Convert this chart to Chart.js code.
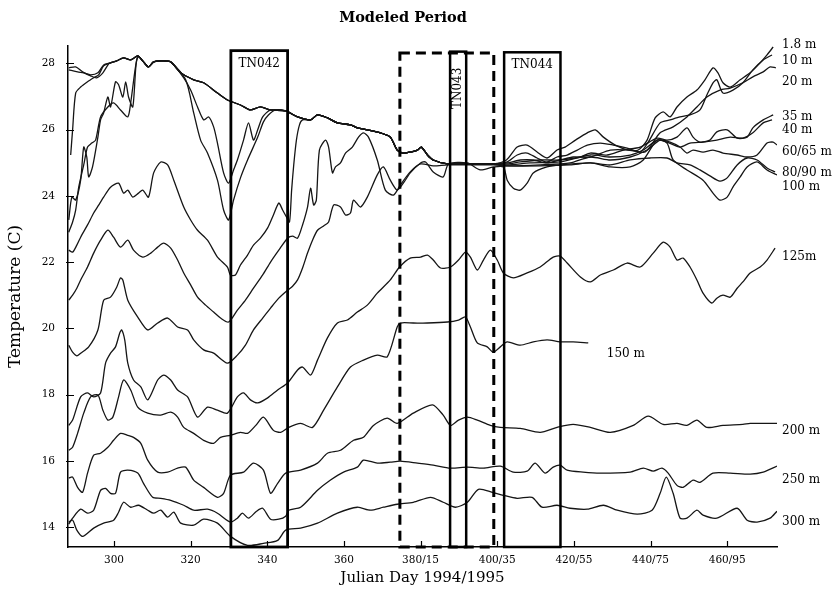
<!DOCTYPE html>
<html>
<head>
<meta charset="utf-8">
<title>Modeled Period</title>
<script src="https://cdn.jsdelivr.net/npm/chart.js@4.4.1/dist/chart.umd.min.js"></script>
<style>
  html, body { margin: 0; padding: 0; background: #fff; }
  canvas { display: block; }
</style>
</head>
<body>
<canvas id="chart" width="833" height="591"></canvas>
<script>
// [julian day, temperature C] per mooring depth

// shared mixed-layer trace, followed by every shallow sensor while it sits in the mixed layer
const mixedLayer = [[288.2,27.80],[290.5,27.74],[292.1,27.71],[293.9,27.65],[295.8,27.71],[297.3,27.95],[299.1,28.01],[300.7,28.07],[302.5,28.16],[304.35,28.10],[306.2,28.22],[307.7,28.04],[309.0,27.89],[310.35,28.04],[312.2,28.07],[314.8,28.04],[317.4,27.71],[320.8,27.50],[323.4,27.41],[327.0,27.10],[329.6,26.89],[333.0,26.74],[335.6,26.59],[338.2,26.68],[340.85,26.59],[344.8,26.56],[347.9,26.38],[351.3,26.29],[353.1,26.44],[355.7,26.35],[358.3,26.20],[361.7,26.14],[363.5,26.05],[366.1,25.99],[369.5,25.90],[372.1,25.77],[373.9,25.38],[375.5,25.29],[377.3,25.32],[379.2,25.38],[380.2,25.47],[381.8,25.23],[383.3,25.08],[387.0,24.96],[392.2,24.96],[398.95,24.96],[405.2,25.02]];

const d1_8Tail = [[402.4,25.08],[405.2,25.47],[407.8,25.53],[410.4,25.32],[413.0,25.14],[415.6,25.38],[417.7,25.47],[420.4,25.68],[423.5,25.90],[425.6,25.99],[427.7,25.77],[430.8,25.53],[434.2,25.38],[436.8,25.38],[439.1,25.68],[441.2,26.35],[443.3,26.53],[445.1,26.38],[446.9,26.68],[449.5,26.98],[452.1,27.19],[454.2,27.50],[456.3,27.86],[457.6,27.71],[458.9,27.41],[460.8,27.28],[463.4,27.50],[466.0,27.71],[468.6,28.01],[470.4,28.25],[472.0,28.49]];

const d10Head = [[288.2,27.86],[290.0,27.89],[291.8,27.74],[293.9,27.62],[295.5,27.56],[297.1,27.71],[298.6,27.98]];
const d10Tail = [[402.6,25.02],[405.2,25.23],[407.8,25.29],[410.4,25.14],[413.0,25.02],[415.6,25.17],[418.25,25.23],[420.9,25.38],[423.5,25.53],[426.9,25.59],[430.3,25.53],[433.9,25.44],[437.3,25.32],[439.4,25.62],[442.5,26.20],[445.1,26.29],[447.7,26.38],[450.3,26.44],[452.9,26.59],[454.7,27.04],[456.3,27.41],[457.3,27.50],[458.9,27.10],[461.5,27.19],[464.1,27.41],[466.7,27.80],[469.4,28.10],[471.7,28.25]];

const d20Head = [[288.7,25.23],[289.2,25.99],[290.0,27.10],[291.3,27.28],[293.1,27.44],[294.7,27.56],[296.0,27.65],[297.3,27.92]];
const d20Dip = [[318.2,27.56],[320.0,27.19],[321.8,26.68],[323.4,26.29],[324.7,26.38],[326.0,26.08],[327.0,25.59],[328.6,24.69],[329.9,24.38],[331.2,24.78],[332.2,25.08],[333.8,25.68],[335.1,26.20],[336.4,25.68],[337.5,25.99],[338.8,26.38],[340.85,26.59]];
const d20Tail = [[402.6,24.99],[406.0,25.08],[409.4,25.08],[413.0,24.99],[416.4,25.08],[419.8,25.17],[424.3,25.17],[429.5,25.38],[434.7,25.38],[438.6,25.32],[442.5,25.90],[445.9,26.08],[449.5,26.38],[452.1,26.68],[454.7,26.98],[458.1,27.19],[460.8,27.25],[464.1,27.41],[466.7,27.59],[469.4,27.74],[471.2,27.89],[472.7,27.86]];

const d35Head = [[288.2,23.27],[289.0,23.96],[290.0,23.87],[291.3,24.47],[292.1,25.47],[292.9,25.17],[293.4,24.57],[294.4,24.87],[295.8,25.77],[296.5,26.29],[297.3,26.50],[298.4,26.98],[299.1,26.68],[300.4,27.44],[301.2,27.35],[302.3,26.98],[303.05,27.44],[303.8,26.98],[304.9,26.68],[305.7,27.89],[306.2,28.22]];
const d35Tail = [[402.6,24.96],[406.0,25.02],[411.2,25.08],[416.4,25.08],[421.7,25.17],[424.3,25.29],[428.7,25.23],[432.9,25.38],[437.3,25.47],[441.7,25.74],[444.3,25.68],[446.9,25.77],[449.5,26.05],[451.1,25.77],[452.9,25.62],[455.5,25.68],[457.3,25.93],[460.0,25.99],[462.6,25.74],[465.2,25.77],[466.7,26.05],[469.4,26.29],[472.0,26.44]];

const d40Head = [[288.2,22.90],[289.2,23.21],[290.0,23.57],[290.8,24.26],[292.1,24.93],[293.1,25.47],[294.2,25.59],[295.2,25.68],[296.5,26.38],[298.4,26.68],[299.9,26.80],[301.7,26.59],[303.6,26.38],[304.35,26.80],[305.7,27.95],[306.4,28.19]];
const d40Dip = [[318.7,27.50],[320.8,26.50],[322.6,25.68],[324.4,25.29],[327.0,24.47],[328.6,23.57],[329.9,23.27],[331.2,23.87],[333.0,24.54],[334.85,25.08],[337.5,25.77],[339.0,26.23],[340.3,26.44],[342.2,26.59]];
const d40Tail = [[402.6,24.93],[408.6,24.99],[416.4,25.02],[424.3,25.23],[429.5,25.17],[434.7,25.23],[438.1,25.38],[441.7,25.68],[444.3,25.62],[447.7,25.47],[450.3,25.59],[453.7,25.62],[457.3,25.68],[460.8,25.77],[464.1,25.74],[466.7,25.90],[469.4,26.20],[471.7,26.29]];

const d60Head = [[288.2,22.36],[289.2,22.30],[290.3,22.51],[291.3,22.75],[293.1,23.12],[294.7,23.48],[296.0,23.72],[297.3,23.96],[299.1,24.26],[301.2,24.38],[302.5,24.08],[303.6,24.17],[304.9,23.96],[306.4,24.08],[307.5,24.17],[309.0,23.96],[310.35,24.69],[312.2,25.02],[314.0,24.93],[315.6,24.47],[318.2,23.66],[320.0,23.27],[321.8,22.96],[324.4,22.66],[327.0,22.15],[329.6,21.85],[330.4,21.60],[331.7,21.61],[333.0,21.91],[334.85,22.21],[336.4,22.51],[338.2,22.72],[340.1,23.03],[341.6,23.42],[343.0,23.78],[344.0,23.57],[345.0,23.36],[345.8,23.21],[346.35,24.17],[346.9,24.93],[347.6,25.68],[348.4,26.14],[349.2,26.29]];
const d60Tail = [[402.6,24.90],[411.2,24.93],[419.0,24.99],[424.3,25.17],[429.5,25.08],[434.7,25.17],[439.1,25.38],[442.5,25.68],[445.1,25.62],[447.7,25.47],[449.5,25.29],[451.1,25.38],[453.7,25.32],[456.3,25.38],[458.9,25.29],[462.6,25.23],[465.2,25.17],[467.8,25.23],[470.4,25.59],[472.0,25.62],[473.0,25.53]];

const d80 = [[288.2,20.85],[289.2,21.00],[290.3,21.21],[291.3,21.46],[293.1,21.85],[294.7,22.27],[296.5,22.66],[298.4,22.96],[299.9,22.75],[301.7,22.45],[303.6,22.66],[305.1,22.36],[307.5,22.15],[309.6,22.27],[311.4,22.45],[312.95,22.57],[314.8,22.42],[316.6,22.06],[318.2,21.67],[320.0,21.31],[321.8,20.94],[323.9,20.70],[326.0,20.49],[327.8,20.31],[329.9,20.19],[332.2,20.55],[334.3,20.85],[336.4,21.21],[338.8,21.61],[340.85,22.00],[343.0,22.36],[345.3,22.72],[346.6,22.78],[347.9,22.72],[349.2,23.12],[350.5,23.66],[351.3,24.23],[352.1,23.72],[352.8,23.87],[353.6,25.38],[355.2,25.68],[356.0,25.47],[357.0,24.69],[357.8,24.87],[359.1,24.99],[360.4,25.29],[362.2,25.47],[363.8,25.77],[365.1,25.90],[366.4,25.77],[368.7,25.08],[370.8,24.17],[372.9,24.02],[374.7,24.32],[377.3,24.72],[380.0,24.96],[383.3,24.90],[387.0,24.93],[392.2,24.93],[398.95,24.93],[402.6,24.90],[411.2,24.90],[419.0,24.93],[424.3,24.99],[429.5,24.93],[434.7,25.08],[439.9,25.14],[444.3,25.14],[446.9,24.99],[450.3,24.93],[452.9,24.78],[455.5,24.60],[458.1,24.44],[460.0,24.54],[462.6,24.93],[465.2,25.14],[467.8,25.08],[470.4,24.84],[472.5,24.72]];

const d100 = [[288.2,19.49],[289.2,19.28],[290.3,19.17],[291.3,19.25],[293.4,19.44],[295.8,19.95],[297.3,20.85],[299.1,20.94],[300.7,21.24],[301.7,21.52],[302.3,21.46],[303.6,20.85],[306.2,20.34],[308.8,19.95],[311.4,20.16],[314.0,20.31],[316.6,20.04],[319.2,19.95],[320.8,19.65],[323.4,19.35],[326.0,19.25],[329.6,18.95],[332.2,19.19],[334.3,19.49],[336.4,19.95],[338.8,20.31],[340.85,20.61],[343.0,20.91],[345.3,21.15],[346.6,21.27],[347.9,21.46],[349.2,21.82],[350.5,22.27],[351.8,22.66],[353.1,22.96],[354.7,23.09],[356.0,23.21],[357.3,23.72],[359.1,23.66],[360.4,23.42],[361.7,23.48],[362.5,23.87],[364.3,23.66],[366.1,23.96],[368.7,24.63],[370.3,24.87],[372.1,24.47],[373.9,24.17],[375.5,24.38],[377.3,24.69],[380.0,24.99],[381.3,25.02],[383.3,24.72],[385.9,24.57],[387.3,24.96],[392.2,24.99],[395.6,24.78],[398.95,24.87],[401.6,24.87],[402.6,24.47],[404.2,24.23],[406.0,24.17],[407.8,24.38],[409.4,24.69],[413.0,24.87],[416.4,24.93],[424.3,24.99],[429.5,24.87],[434.7,24.87],[438.1,25.08],[441.7,25.68],[444.3,25.59],[445.9,25.08],[449.5,24.78],[453.7,24.47],[456.3,24.08],[458.1,23.87],[460.0,23.96],[461.5,24.26],[463.4,24.57],[465.2,24.87],[467.8,25.02],[470.4,24.78],[473.0,24.63]];

const d125 = [[288.2,17.07],[289.2,17.23],[291.3,17.93],[293.1,18.05],[294.7,17.93],[296.5,18.05],[297.8,18.95],[299.1,19.25],[300.4,19.44],[301.5,19.86],[302.0,19.95],[302.8,19.65],[303.6,18.95],[305.1,18.44],[307.0,18.23],[308.8,17.84],[311.4,18.44],[312.95,18.59],[314.8,18.44],[316.6,18.14],[319.2,17.93],[321.8,17.32],[324.4,17.62],[327.0,17.53],[329.6,17.44],[332.2,17.93],[333.8,18.05],[335.6,17.84],[337.5,17.75],[340.1,17.90],[342.7,18.14],[345.3,18.35],[347.9,18.74],[349.2,18.83],[351.3,18.59],[353.1,19.04],[355.7,19.71],[358.3,20.16],[360.9,20.25],[363.5,20.49],[366.1,20.70],[368.7,21.06],[372.1,21.46],[374.5,21.85],[377.3,22.12],[380.0,22.15],[381.8,22.21],[383.3,22.06],[385.2,21.82],[387.8,21.85],[389.9,22.06],[391.7,22.30],[393.0,22.15],[394.8,21.76],[396.4,22.06],[398.2,22.36],[400.0,22.06],[401.6,21.67],[404.2,21.52],[407.8,21.67],[411.2,21.85],[414.6,22.15],[416.4,22.18],[418.25,21.97],[421.7,21.55],[424.3,21.40],[426.9,21.61],[430.3,21.76],[433.9,21.97],[437.3,21.85],[440.7,22.27],[443.3,22.60],[445.1,22.45],[446.9,22.06],[448.5,22.12],[450.3,21.85],[452.1,21.46],[453.7,21.06],[456.0,20.76],[457.3,20.91],[458.9,21.00],[460.8,20.94],[462.6,21.21],[464.1,21.40],[466.0,21.67],[468.6,21.85],[470.4,22.06],[472.5,22.42]];

const d150 = [[288.2,16.32],[289.2,16.41],[290.5,16.83],[292.1,17.44],[293.9,17.93],[295.8,17.99],[297.1,17.53],[298.4,17.23],[299.7,17.32],[301.2,17.93],[302.5,18.44],[304.35,18.14],[306.2,17.62],[308.8,17.44],[312.2,17.38],[314.8,17.47],[316.6,17.32],[318.2,17.01],[320.8,16.83],[323.4,16.62],[326.0,16.53],[327.8,16.71],[330.4,16.77],[333.0,16.86],[334.85,16.83],[337.0,17.07],[339.0,17.32],[341.6,16.92],[343.5,16.86],[345.6,17.01],[348.7,17.13],[351.8,17.01],[354.7,17.53],[358.3,18.23],[361.7,18.83],[365.1,19.04],[368.7,19.19],[371.3,19.14],[373.9,20.04],[374.7,20.16],[378.1,20.16],[381.8,20.16],[387.0,20.19],[389.9,20.25],[391.7,20.34],[393.0,20.04],[394.8,19.56],[397.4,19.44],[398.95,19.28],[400.8,19.44],[402.6,19.59],[406.0,19.49],[409.4,19.59],[413.0,19.65],[416.4,19.59],[419.8,19.59],[423.75,19.56]];

const d200 = [[288.2,15.48],[289.2,15.51],[290.5,15.20],[291.8,15.05],[293.1,15.63],[294.7,16.17],[296.5,16.23],[298.4,16.41],[299.9,16.62],[301.7,16.83],[303.6,16.77],[305.1,16.71],[307.0,16.53],[308.8,16.02],[311.4,15.66],[314.0,15.66],[316.6,15.78],[318.7,15.81],[320.8,15.42],[323.4,15.20],[327.0,14.90],[328.6,15.02],[330.4,15.57],[333.8,15.66],[336.4,15.93],[339.0,15.72],[340.85,15.02],[342.7,15.32],[344.8,15.63],[348.7,15.72],[353.1,15.93],[355.7,16.23],[359.1,16.32],[362.5,16.62],[365.1,16.71],[367.7,17.07],[371.3,17.29],[373.9,17.13],[378.1,17.44],[383.1,17.69],[385.9,17.38],[387.8,17.07],[389.9,17.23],[392.2,17.32],[394.8,17.23],[398.2,17.07],[400.8,17.01],[406.0,16.98],[411.2,16.86],[415.6,17.01],[419.8,17.10],[424.3,17.01],[429.5,16.86],[435.5,17.07],[439.4,17.35],[443.3,17.10],[446.9,17.13],[449.5,17.07],[452.1,17.23],[454.7,17.01],[458.9,17.07],[464.1,17.10],[466.0,17.13],[473.0,17.13]];

const d250 = [[288.2,14.09],[289.2,14.27],[291.3,14.54],[293.1,14.42],[294.7,14.51],[296.5,15.11],[297.8,15.17],[299.1,15.02],[300.4,15.02],[301.7,15.66],[303.6,15.72],[306.2,15.63],[307.7,15.32],[310.1,14.90],[312.2,14.87],[314.8,14.81],[318.2,14.66],[320.8,14.51],[324.4,14.54],[327.0,14.42],[330.4,14.15],[332.2,14.27],[333.5,14.42],[335.1,14.27],[337.2,14.48],[338.8,14.57],[340.85,14.24],[343.0,14.24],[344.8,14.33],[345.6,14.51],[348.7,14.60],[353.1,15.11],[356.5,15.42],[359.9,15.66],[363.5,15.81],[365.1,16.02],[368.7,15.93],[372.1,15.96],[374.7,15.99],[379.2,15.93],[383.3,15.87],[387.8,15.78],[392.2,15.81],[396.4,15.78],[400.8,15.84],[404.2,15.66],[407.8,15.69],[409.9,15.93],[412.5,15.63],[414.6,15.81],[416.4,15.87],[418.25,15.72],[422.4,15.66],[426.9,15.63],[434.7,15.66],[438.1,15.78],[440.7,15.69],[443.0,15.78],[444.6,15.63],[446.9,15.26],[448.5,15.20],[451.1,15.42],[452.9,15.35],[456.3,15.63],[460.8,15.63],[466.0,15.60],[469.4,15.66],[473.0,15.84]];

const d300 = [[288.2,14.15],[289.2,14.21],[290.3,13.91],[291.8,13.72],[294.7,13.97],[297.3,14.12],[299.9,14.21],[301.2,14.45],[302.5,14.75],[304.35,14.60],[306.4,14.66],[308.8,14.51],[310.35,14.42],[312.2,14.51],[314.0,14.30],[315.6,14.45],[317.4,14.12],[320.8,14.06],[323.4,14.24],[327.0,14.12],[330.4,13.72],[334.85,13.45],[339.0,13.51],[342.7,13.60],[344.8,13.91],[348.7,13.97],[353.1,14.12],[358.3,14.42],[363.5,14.60],[366.9,14.51],[370.3,14.60],[373.9,14.69],[378.1,14.75],[382.6,14.90],[385.9,14.75],[389.1,14.60],[392.2,14.75],[395.1,15.14],[398.7,15.05],[401.6,14.96],[405.2,14.87],[409.1,14.90],[411.7,14.60],[415.6,14.66],[419.0,14.57],[423.5,14.54],[427.7,14.66],[431.3,14.51],[436.55,14.39],[440.4,14.51],[442.5,15.02],[444.1,15.51],[445.9,15.02],[447.7,14.27],[449.5,14.27],[452.1,14.51],[453.7,14.36],[457.3,14.27],[462.6,14.57],[465.2,14.21],[467.8,14.15],[471.2,14.27],[473.0,14.48]];

// axes
const xTickDays = [300, 320, 340, 360, 380, 400, 420, 440, 460];
const xTickLabels = ['300', '320', '340', '360', '380/15', '400/35', '420/55', '440/75', '460/95'];
const yTickTemps = [14, 16, 18, 20, 22, 24, 26, 28];

// cruise windows and the modeled period (days, top edge in C)
const cruiseNames = ['TN042', 'TN043', 'TN044'];
const cruiseStart = [330.5, 387.7, 401.8];
const cruiseEnd = [345.3, 391.9, 416.5];
const cruiseTop = [28.38, 28.35, 28.33];
const modelWindow = [374.6, 399.1];
const modelWindowTop = 28.31;

// depth labels: name and the temperature level they sit at
const depthNames = ['1.8 m', '10 m', '20 m', '35 m', '40 m', '60/65 m', '80/90 m', '100 m', '125m', '150 m', '200 m', '250 m', '300 m'];
const depthLabelTemps = [28.55, 28.07, 27.44, 26.39, 26.0, 25.33, 24.69, 24.27, 22.16, 19.24, 16.9, 15.43, 14.15];
const inlineLabelDay = { '150 m': 428.6 };

function mixedBetween(d0, d1) {
    return mixedLayer.filter(p => p[0] >= d0 && p[0] <= d1);
}

const series = [
    ['1.8 m', [...mixedBetween(288, 399), ...d1_8Tail]],
    ['10 m', [...d10Head, ...mixedBetween(299, 399), ...d10Tail]],
    ['20 m', [...d20Head, ...mixedBetween(299, 315), ...d20Dip, ...mixedBetween(344, 399), ...d20Tail]],
    ['35 m', [...d35Head, ...mixedBetween(307, 399), ...d35Tail]],
    ['40 m', [...d40Head, ...mixedBetween(307, 315), ...d40Dip, ...mixedBetween(344, 399), ...d40Tail]],
    ['60/65 m', [...d60Head, ...mixedBetween(350, 399), ...d60Tail]],
    ['80/90 m', d80],
    ['100 m', d100],
    ['125m', d125],
    ['150 m', d150],
    ['200 m', d200],
    ['250 m', d250],
    ['300 m', d300],
];

const SERIF = '"DejaVu Serif", "Liberation Serif", serif';
Chart.defaults.font.family = SERIF;
Chart.defaults.color = '#000';

const surveyMarks = {
    id: 'surveyMarks',
    afterDatasetsDraw(chart) {
        const { ctx, scales: { x, y } } = chart;
        const bottom = y.getPixelForValue(y.min);
        ctx.save();
        ctx.strokeStyle = '#000';
        ctx.fillStyle = '#000';

        // modeled period, dashed
        ctx.lineWidth = 3;
        ctx.setLineDash([10, 6]);
        const wl = x.getPixelForValue(modelWindow[0]);
        const wr = x.getPixelForValue(modelWindow[1]);
        const wt = y.getPixelForValue(modelWindowTop);
        ctx.strokeRect(wl, wt, wr - wl, bottom - wt);
        ctx.setLineDash([]);

        // cruise boxes
        ctx.font = '12px ' + SERIF;
        cruiseNames.forEach((name, i) => {
            const l = x.getPixelForValue(cruiseStart[i]);
            const r = x.getPixelForValue(cruiseEnd[i]);
            const t = y.getPixelForValue(cruiseTop[i]);
            ctx.lineWidth = i === 0 ? 2.8 : 2.5;
            ctx.strokeRect(l, t, r - l, bottom - t);
            const cx = (l + r) / 2;
            if (r - l < 30) {
                // narrow box: label runs up the inside
                ctx.save();
                ctx.translate(cx, t + 16);
                ctx.rotate(-Math.PI / 2);
                ctx.textAlign = 'right';
                ctx.textBaseline = 'middle';
                ctx.fillText(name, 0, 0);
                ctx.restore();
            } else {
                ctx.textAlign = 'center';
                ctx.textBaseline = 'middle';
                ctx.fillText(name, cx, t + 13);
            }
        });
        ctx.restore();
    },
    afterDraw(chart) {
        const { ctx, chartArea, scales: { x, y } } = chart;
        ctx.save();
        ctx.strokeStyle = '#000';
        ctx.fillStyle = '#000';

        // tick marks pointing into the plot
        ctx.lineWidth = 1.2;
        ctx.beginPath();
        yTickTemps.forEach(v => {
            const py = Math.round(y.getPixelForValue(v)) + 0.5;
            ctx.moveTo(chartArea.left - 2, py);
            ctx.lineTo(chartArea.left + 6, py);
        });
        xTickDays.forEach(v => {
            const px = Math.round(x.getPixelForValue(v)) + 0.5;
            ctx.moveTo(px, chartArea.bottom);
            ctx.lineTo(px, chartArea.bottom - 6);
        });
        ctx.stroke();

        // depth labels
        ctx.font = '12px ' + SERIF;
        ctx.textAlign = 'left';
        ctx.textBaseline = 'middle';
        depthNames.forEach((name, i) => {
            const px = name in inlineLabelDay ? x.getPixelForValue(inlineLabelDay[name]) : chartArea.right + 5;
            ctx.fillText(name, px, y.getPixelForValue(depthLabelTemps[i]));
        });

        // title
        ctx.font = 'bold 14.5px ' + SERIF;
        ctx.textAlign = 'center';
        ctx.fillText('Modeled Period', 403, 18);
        ctx.restore();
    }
};

new Chart(document.getElementById('chart'), {
    type: 'line',
    data: {
        datasets: series.map(([label, data]) => ({
            label,
            data,
            borderColor: '#151515',
            borderWidth: 1.3,
            pointRadius: 0,
            tension: 0.25,
            fill: false,
        })),
    },
    options: {
        responsive: false,
        animation: false,
        events: [],
        layout: { padding: { left: 0, right: 56, top: 46, bottom: 0 } },
        plugins: {
            legend: { display: false },
            tooltip: { enabled: false },
            title: { display: false },
        },
        scales: {
            x: {
                type: 'linear',
                min: 288,
                max: 473,
                afterFit: (scale) => { scale.height = 44; },
                afterBuildTicks: (scale) => { scale.ticks = xTickDays.map(v => ({ value: v })); },
                grid: { display: false, drawTicks: false },
                border: { display: true, color: '#000', width: 1.5 },
                ticks: {
                    autoSkip: false,
                    maxRotation: 0,
                    padding: 7,
                    font: { size: 10.5 },
                    color: '#000',
                    callback: (v, i) => xTickLabels[i],
                },
                title: {
                    display: true,
                    text: 'Julian Day 1994/1995',
                    font: { size: 15 },
                    color: '#000',
                    padding: { top: 0, bottom: 4 },
                },
            },
            y: {
                type: 'linear',
                min: 13.4,
                max: 28.52,
                afterFit: (scale) => { scale.width = 68; },
                afterBuildTicks: (scale) => { scale.ticks = yTickTemps.map(v => ({ value: v })); },
                grid: { display: false, drawTicks: false },
                border: { display: true, color: '#000', width: 1.5 },
                ticks: {
                    padding: 13,
                    font: { size: 10.5 },
                    color: '#000',
                },
                title: {
                    display: true,
                    text: 'Temperature (C)',
                    font: { size: 17 },
                    color: '#000',
                    padding: { top: 5, bottom: 0 },
                },
            },
        },
    },
    plugins: [surveyMarks],
});
</script>
</body>
</html>
